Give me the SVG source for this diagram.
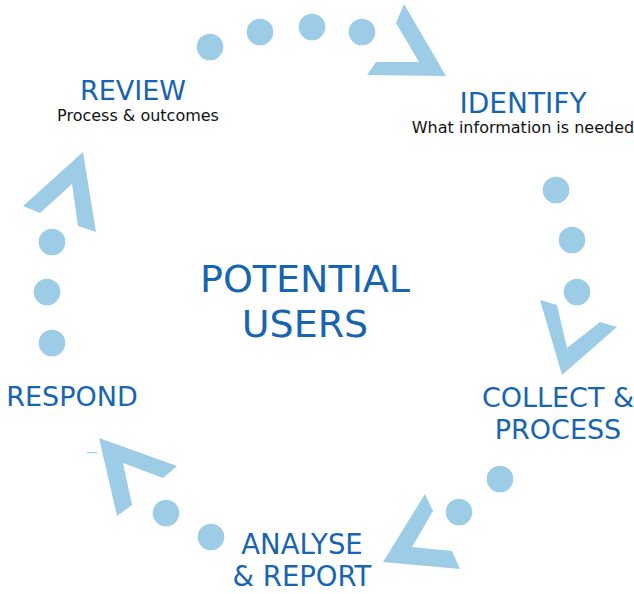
<svg xmlns="http://www.w3.org/2000/svg" width="634" height="594" viewBox="0 0 634 594">
<style>
.sh{fill:#9dcde6}
.t{font-family:"DejaVu Sans",Verdana,sans-serif;fill:#1764b0;text-anchor:middle}
.s{font-family:"DejaVu Sans",Verdana,sans-serif;fill:#111;text-anchor:middle;font-size:16px}
</style>
<rect width="634" height="594" fill="#fff"/>
<g id="center"><text class="t" x="305" y="292" font-size="38">POTENTIAL</text><text class="t" x="305" y="337" font-size="38">USERS</text></g>
<g id="identify"><text class="t" x="523" y="113" font-size="28">IDENTIFY</text><text class="s" x="523" y="133">What information is needed</text></g>
<g id="collect"><text class="t" x="558" y="407" font-size="27">COLLECT &amp;</text><text class="t" x="558" y="439" font-size="27">PROCESS</text></g>
<g id="analyse"><text class="t" x="302" y="554" font-size="27.5">ANALYSE</text><text class="t" x="302" y="586" font-size="27.5">&amp; REPORT</text></g>
<g id="respond"><text class="t" x="72" y="406" font-size="27">RESPOND</text></g>
<g id="review"><text class="t" x="133" y="100" font-size="27">REVIEW</text><text class="s" x="138" y="121">Process &amp; outcomes</text></g>
<g id="connectors" class="sh">
<circle cx="210" cy="47" r="13.3"/><circle cx="260" cy="32" r="13.3"/><circle cx="312" cy="27" r="13.3"/><circle cx="362" cy="32" r="13.3"/>
<polygon points="404,4 446,76 367,75 376,62 419,62 396,23"/>
<circle cx="556" cy="190" r="13.3"/><circle cx="572" cy="240" r="13.3"/><circle cx="577" cy="292" r="13.3"/>
<polygon points="540,300 557,305 567,348 600,322 617,327 562,375"/>
<circle cx="500" cy="479" r="13.3"/><circle cx="459" cy="512" r="13.3"/>
<polygon points="425,494 433,511 412,547 452,551 460,569 383,562"/>
<circle cx="211" cy="537" r="13.3"/><circle cx="166" cy="513" r="13.3"/>
<polygon points="99,438 177,466 163,478 123,463 132,505 117,516"/>
<rect x="87" y="452" width="10" height="1.2"/>
<circle cx="52" cy="343" r="13.3"/><circle cx="47" cy="292" r="13.3"/><circle cx="52" cy="242" r="13.3"/>
<polygon points="83,152 96,232 78,226 72,184 40,213 23,206"/>
</g>
</svg>
